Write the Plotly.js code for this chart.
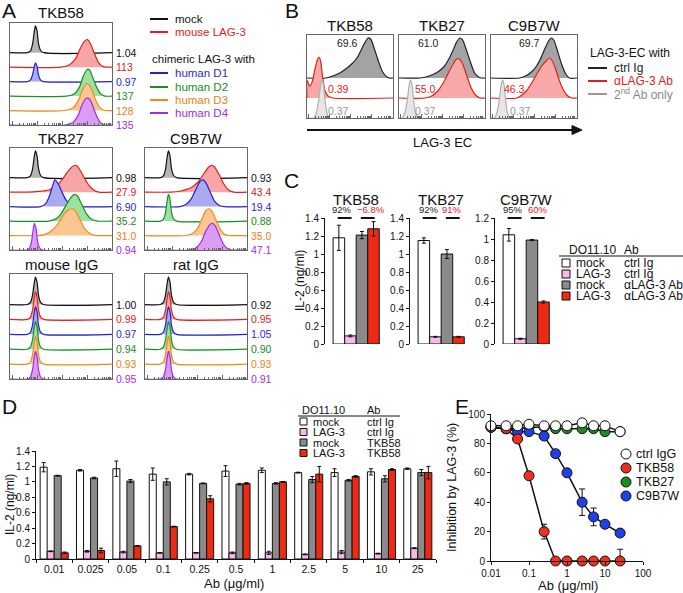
<!DOCTYPE html>
<html><head><meta charset="utf-8">
<script src="https://cdn.plot.ly/plotly-3.0.1.min.js"></script>
<style>html,body{margin:0;padding:0;background:#fff}</style>
</head><body><div id="chart" style="width:683px;height:593px"></div>
<script>
// ================= DATA =================
// Panel A: histogram outlines [x % of axis, height in row units]
const A_rows = ['mock','mouse LAG-3','human D1','human D2','human D3','human D4'];
const A_TKB58_vals = ['1.04','113','0.97','137','128','135'];
const A_TKB27_vals = ['0.98','27.9','6.90','35.2','31.0','0.94'];
const A_C9B7W_vals = ['0.93','43.4','19.4','0.88','35.0','47.1'];
const A_mIgG_vals = ['1.00','0.99','0.97','0.94','0.93','0.95'];
const A_rIgG_vals = ['0.92','0.95','1.05','0.90','0.93','0.91'];

const A_TKB58_mock = [[17,0],[20,0.12],[22,0.55],[24,1.55],[25,1.85],[26.5,1.5],[28,0.6],[30,0.15],[33,0]];
const A_TKB58_mLAG3 = [[50,0],[58,0.15],[64,0.55],[69,1.3],[73,1.8],[76,1.9],[79,1.6],[83,0.9],[87,0.3],[91,0.05],[94,0]];
const A_TKB58_D1 = [[17,0],[20,0.1],[22,0.45],[24,1.1],[25,1.3],[26.5,1.05],[28,0.45],[30,0.1],[33,0]];
const A_TKB58_D2 = [[55,0],[63,0.15],[68,0.6],[72,1.4],[76,1.85],[78,1.8],[81,1.3],[85,0.6],[89,0.15],[93,0]];
const A_TKB58_D3 = [[53,0],[62,0.2],[67,0.7],[71,1.4],[75,1.85],[78,1.75],[81,1.3],[85,0.55],[89,0.15],[93,0]];
const A_TKB58_D4 = [[54,0],[62,0.2],[67,0.7],[71,1.45],[75,1.85],[78,1.8],[81,1.35],[85,0.6],[89,0.15],[93,0]];

const A_TKB27_mock = [[17,0],[20,0.12],[22,0.55],[24,1.55],[25,1.85],[26.5,1.5],[28,0.6],[30,0.15],[33,0]];
const A_TKB27_mLAG3 = [[18,0],[28,0.05],[38,0.15],[45,0.4],[52,0.95],[57,1.45],[62,1.8],[65,1.85],[68,1.6],[72,1.1],[77,0.5],[82,0.15],[87,0]];
const A_TKB27_D1 = [[30,0],[35,0.2],[39,0.8],[42,1.5],[44,1.85],[47,1.6],[51,1.0],[55,0.45],[60,0.12],[66,0]];
const A_TKB27_D2 = [[38,0],[45,0.15],[50,0.5],[55,1.1],[60,1.65],[63,1.85],[66,1.75],[70,1.2],[75,0.5],[80,0.12],[86,0]];
const A_TKB27_D3 = [[28,0],[35,0.1],[42,0.4],[48,0.9],[53,1.5],[58,1.8],[61,1.85],[64,1.7],[68,1.2],[73,0.5],[79,0.1],[85,0]];
const A_TKB27_D4 = [[16,0],[19,0.12],[21,0.55],[23,1.55],[24,1.85],[25.5,1.5],[27,0.6],[29,0.15],[32,0]];

const A_C9B7W_mock = [[15,0],[18,0.12],[20,0.55],[22,1.55],[23,1.85],[24.5,1.5],[26,0.6],[28,0.15],[31,0]];
const A_C9B7W_mLAG3 = [[25,0],[35,0.08],[45,0.3],[52,0.7],[57,1.2],[62,1.7],[65,1.85],[68,1.75],[72,1.3],[77,0.6],[82,0.15],[87,0]];
const A_C9B7W_D1 = [[34,0],[40,0.15],[45,0.5],[50,1.2],[54,1.75],[57,1.85],[60,1.6],[64,1.0],[68,0.4],[73,0.08],[78,0]];
const A_C9B7W_D2 = [[15,0],[18,0.12],[20,0.55],[22,1.55],[23,1.85],[24.5,1.5],[26,0.6],[28,0.15],[31,0]];
const A_C9B7W_D3 = [[40,0],[47,0.15],[52,0.55],[56,1.2],[60,1.75],[63,1.85],[66,1.65],[70,1.0],[74,0.4],[78,0.08],[82,0]];
const A_C9B7W_D4 = [[42,0],[50,0.15],[55,0.55],[59,1.2],[63,1.7],[66,1.85],[69,1.65],[73,1.0],[77,0.4],[81,0.08],[85,0]];

const A_mIgG_peak = [[17,0],[20,0.14],[22,0.6],[24,1.55],[25,1.85],[26.5,1.5],[28,0.6],[30,0.15],[33,0]];
const A_rIgG_peak = [[15,0],[18,0.14],[20,0.6],[22,1.55],[23,1.85],[24.5,1.5],[26,0.6],[28,0.15],[31,0]];

// Panel B
const B_clones = ['TKB58','TKB27','C9B7W'];
const B_ctrl_vals = ['69.6','61.0','69.7'];
const B_ab_vals = ['0.39','55.0','46.3'];
const B_2nd_vals = ['0.37','0.37','0.37'];
const B_TKB58_ctrl = [[22,0],[30,0.1],[38,0.25],[45,0.45],[52,0.7],[58,1.0],[63,1.4],[67,1.75],[71,2.0],[74,1.95],[78,1.5],[83,0.85],[88,0.3],[93,0.05],[96,0]];
const B_TKB58_ab = [[0,0.9],[3,0.6],[6,0.8],[9,1.4],[12,1.9],[14,2.05],[16,1.8],[18,1.1],[21,0.35],[25,0.08],[30,0]];
const B_TKB58_2nd = [[8,0],[11,0.3],[14,1.0],[16,1.7],[17.5,1.9],[19,1.7],[21,0.9],[23,0.3],[26,0]];
const B_TKB27_ctrl = [[25,0],[35,0.1],[45,0.3],[52,0.55],[58,0.95],[63,1.4],[67,1.8],[71,2.0],[74,1.9],[78,1.45],[83,0.8],[88,0.25],[93,0.04],[96,0]];
const B_TKB27_ab = [[30,0],[38,0.1],[45,0.35],[52,0.8],[58,1.3],[63,1.7],[67,1.95],[70,1.95],[74,1.7],[79,1.1],[84,0.5],[89,0.15],[94,0]];
const B_TKB27_2nd = [[4,0],[7,0.3],[10,1.0],[12,1.7],[13.5,1.9],[15,1.7],[17,0.9],[19,0.3],[22,0]];
const B_C9B7W_ctrl = [[33,0],[40,0.1],[47,0.3],[53,0.6],[58,1.0],[63,1.5],[67,1.85],[70,2.0],[73,1.9],[77,1.4],[82,0.7],[87,0.2],[91,0]];
const B_C9B7W_ab = [[30,0],[36,0.15],[42,0.4],[48,0.8],[54,1.25],[59,1.6],[64,1.85],[68,2.0],[72,1.8],[77,1.2],[82,0.6],[88,0.15],[94,0]];
const B_C9B7W_2nd = [[4,0],[7,0.3],[10,1.0],[12,1.7],[13.5,1.9],[15,1.7],[17,0.9],[19,0.3],[22,0]];

// Panel C
const C_clones = ['TKB58','TKB27','C9B7W'];
const C_groups = ['mock|ctrl Ig','LAG-3|ctrl Ig','mock|\u03b1LAG-3 Ab','LAG-3|\u03b1LAG-3 Ab'];
const C_TKB58 = [1.18, 0.09, 1.21, 1.28];
const C_TKB58_err = [0.14, 0.01, 0.04, 0.08];
const C_TKB27 = [1.15, 0.08, 1.00, 0.08];
const C_TKB27_err = [0.03, 0.005, 0.05, 0.005];
const C_C9B7W = [1.04, 0.05, 0.99, 0.40];
const C_C9B7W_err = [0.06, 0.005, 0.005, 0.01];
const C_pct_ctrl = ['92%','92%','95%'];
const C_pct_ab = ['\u22126.8%','91%','60%'];

// Panel D
const D_doses = ['0.01','0.025','0.05','0.1','0.25','0.5','1','2.5','5','10','25'];
const D_mock_ctrl = [1.19,1.15,1.17,1.10,1.10,1.14,1.15,1.12,1.12,1.13,1.17];
const D_mock_ctrl_err = [0.06,0.01,0.10,0.08,0.01,0.07,0.03,0.005,0.05,0.04,0.01];
const D_lag3_ctrl = [0.10,0.10,0.09,0.08,0.08,0.08,0.08,0.06,0.09,0.07,0.14];
const D_lag3_ctrl_err = [0.005,0.01,0.01,0.005,0.003,0.01,0.02,0.005,0.02,0.005,0.005];
const D_mock_tkb = [1.08,1.05,1.01,1.00,0.98,0.97,0.98,1.03,1.02,1.04,1.12];
const D_mock_tkb_err = [0.005,0.01,0.02,0.04,0.005,0.01,0.01,0.04,0.01,0.04,0.04];
const D_lag3_tkb = [0.08,0.11,0.17,0.42,0.78,0.98,1.00,1.10,1.07,1.16,1.12];
const D_lag3_tkb_err = [0.01,0.03,0.005,0.005,0.04,0.01,0.005,0.10,0.01,0.01,0.08];

// Panel E
const E_dose = [0.01,0.025,0.05,0.1,0.25,0.5,1,2.5,5,10,25];
const E_ctrl = [92,92,92,93,92,92,92,94,92,92,88];
const E_ctrl_err = [1,1,1,1,1,1,1,1,1,1,1];
const E_TKB58 = [91,90,83,58,20,0,0,0,0,0,0];
const E_TKB58_err = [1,1,2,2,5,0,0,0,0,0,8];
const E_TKB27 = [91,90,90,91,91,90,90,90,90,88,88];
const E_TKB27_err = [1,1,1,1,1,1,1,1,1,1,1];
const E_C9B7W = [91,90,88,88,85,73,60,40,30,25,19];
const E_C9B7W_err = [1,1,1,1,1,1,1,9,6,1,1];

// ================= LAYOUT HELPERS =================
const W=683,H=593;
const FONT='Liberation Sans, Arial, Helvetica, sans-serif';
const layout={width:W,height:H,margin:{l:0,r:0,t:0,b:0},paper_bgcolor:'#ffffff',plot_bgcolor:'rgba(0,0,0,0)',
  showlegend:false,font:{family:FONT,size:11,color:'#111'},annotations:[],shapes:[],bargap:0};
const traces=[];
const ax=(i,c)=>c+(i===1?'':i);
const axKey=(i,c)=>c+'axis'+(i===1?'':i);
function setAxes(i,x0,x1,yTop,yBot,xo,yo){
  layout[axKey(i,'x')]=Object.assign({domain:[x0/W,x1/W],anchor:ax(i,'y'),showgrid:false,zeroline:false,fixedrange:true},xo);
  layout[axKey(i,'y')]=Object.assign({domain:[1-yBot/H,1-yTop/H],anchor:ax(i,'x'),showgrid:false,zeroline:false,fixedrange:true},yo);
}
function ann(text,x,y,size,color,o){
  layout.annotations.push(Object.assign({text:text,x:x/W,y:1-y/H,xref:'paper',yref:'paper',showarrow:false,
    font:{family:FONT,size:size||12,color:color||'#111'},xanchor:'center',yanchor:'middle'},o||{}));
}
function pline(x0,y0,x1,y1,color,width){
  layout.shapes.push({type:'line',xref:'paper',yref:'paper',x0:x0/W,y0:1-y0/H,x1:x1/W,y1:1-y1/H,line:{color:color,width:width||1}});
}
function prect(x0,y0,x1,y1,fill){
  layout.shapes.push({type:'rect',xref:'paper',yref:'paper',x0:x0/W,y0:1-y0/H,x1:x1/W,y1:1-y1/H,fillcolor:fill,line:{color:'#111',width:1}});
}
// log-like ticks along the bottom of histogram boxes
const majT=[],minT=[];
for(let d=0;d<=4;d++){const b=2+d*24.5; if(b<=100) majT.push(b); for(let m=2;m<=9;m++){const v=b+24.5*Math.log10(m); if(v<100) minT.push(v);} }
const histX={range:[0,100],showline:true,mirror:true,linecolor:'#666',linewidth:1,ticks:'inside',tickmode:'array',tickvals:majT,
  ticklen:4,tickcolor:'#666',showticklabels:false,minor:{ticks:'inside',tickmode:'array',tickvals:minT,ticklen:2,tickcolor:'#666'}};
function histTrace(pts,base,lc,fc,i){
  const xs=[0],ys=[base];
  pts.forEach(p=>{xs.push(p[0]);ys.push(base+p[1]);});
  if(pts[pts.length-1][0]<100){xs.push(100);ys.push(base);}
  return {type:'scatter',mode:'lines',x:xs,y:ys,fill:'toself',fillcolor:fc,line:{color:lc,width:1.2,shape:'spline',smoothing:0.7},
    xaxis:ax(i,'x'),yaxis:ax(i,'y'),hoverinfo:'skip'};
}
// ================= PANEL A =================
const A_line=['#111111','#e3211c','#2222cc','#17921f','#f08a1e','#9a2fe6'];
const A_fill=['#b5b5b5','#f6a6a6','#aaaaf0','#9ee0a2','#fbc690','#dc9cf6'];
const A_txt=['#111111','#e3211c','#2a2ac8','#1a8a22','#ee8020','#9a2fe6'];
const A_base=[5,4,3,2,1,0];
function aPanel(i,x0,x1,y0,y1,title,curves,vals){
  setAxes(i,x0,x1,y0,y1,histX,{range:[0,7.05],showline:true,mirror:true,linecolor:'#666',showticklabels:false,ticks:''});
  curves.forEach((c,k)=>traces.push(histTrace(c,A_base[k],A_line[k],A_fill[k],i)));
  vals.forEach((v,k)=>layout.annotations.push({text:v,xref:ax(i,'x')+' domain',yref:ax(i,'y'),x:1.02,y:A_base[k],xanchor:'left',yanchor:'middle',
    showarrow:false,font:{family:FONT,size:10.5,color:A_txt[k]}}));
  ann(title,(x0+x1)/2,y0-10,15,'#111');
}
aPanel(1,10,112,23,125,'TKB58',[A_TKB58_mock,A_TKB58_mLAG3,A_TKB58_D1,A_TKB58_D2,A_TKB58_D3,A_TKB58_D4],A_TKB58_vals);
aPanel(2,10,112,148,250,'TKB27',[A_TKB27_mock,A_TKB27_mLAG3,A_TKB27_D1,A_TKB27_D2,A_TKB27_D3,A_TKB27_D4],A_TKB27_vals);
aPanel(3,145,247,148,250,'C9B7W',[A_C9B7W_mock,A_C9B7W_mLAG3,A_C9B7W_D1,A_C9B7W_D2,A_C9B7W_D3,A_C9B7W_D4],A_C9B7W_vals);
aPanel(4,10,112,274,379,'mouse IgG',A_rows.map(()=>A_mIgG_peak),A_mIgG_vals);
aPanel(5,145,247,274,379,'rat IgG',A_rows.map(()=>A_rIgG_peak),A_rIgG_vals);
// legend A
const A_legY=[19,32,73,87,100,113];
A_rows.forEach((t,k)=>{pline(150,A_legY[k],168,A_legY[k],A_line[k],2);ann(t,173,A_legY[k],11.5,A_txt[k],{xanchor:'left'});});
ann('chimeric LAG-3 with',150,59,11.5,'#111',{xanchor:'left'});

// ================= PANEL B =================
const B_line=['#222222','#e3211c','#b0b0b0'];
const B_fill=['#a3a3a3','#f8a8a8','#e6e6e6'];
const B_txt=['#222222','#e3211c','#999999'];
const B_base=[2,1,0];
const B_boxes=[[307,393],[399,485],[491,577]];
const B_curves=[[B_TKB58_ctrl,B_TKB58_ab,B_TKB58_2nd],[B_TKB27_ctrl,B_TKB27_ab,B_TKB27_2nd],[B_C9B7W_ctrl,B_C9B7W_ab,B_C9B7W_2nd]];
const B_lblX=[[47,37,37],[34,31,31],[45,27,34]];
const B_lblY=[3.75,1.45,0.35];
B_clones.forEach((cl,j)=>{
  const i=6+j,[x0,x1]=B_boxes[j];
  setAxes(i,x0,x1,35,118,histX,{range:[0,4.15],showline:true,mirror:true,linecolor:'#666',showticklabels:false,ticks:''});
  B_curves[j].forEach((c,k)=>traces.push(histTrace(c,B_base[k],B_line[k],B_fill[k],i)));
  [B_ctrl_vals[j],B_ab_vals[j],B_2nd_vals[j]].forEach((v,k)=>layout.annotations.push({text:v,xref:ax(i,'x'),yref:ax(i,'y'),
    x:B_lblX[j][k],y:B_lblY[k],showarrow:false,font:{family:FONT,size:10.5,color:B_txt[k]}}));
  ann(cl,(x0+x1)/2,25,15,'#111');
});
pline(307,130,574,130,'#111',2);
layout.shapes.push({type:'path',xref:'paper',yref:'paper',path:`M ${572/W} ${1-125.5/H} L ${582/W} ${1-130/H} L ${572/W} ${1-134.5/H} Z`,fillcolor:'#111',line:{color:'#111',width:1}});
ann('LAG-3 EC',442,142,13,'#111');
ann('LAG-3-EC with',588,53,12,'#111',{xanchor:'left'});
const B_legTxt=['ctrl Ig','\u03b1LAG-3 Ab','2<sup>nd</sup> Ab only'];
[68,81,94].forEach((y,k)=>{pline(588,y,607,y,k===2?'#999':B_line[k],2);ann(B_legTxt[k],612,y,12,k===2?'#888':B_txt[k],{xanchor:'left'});});

// ================= PANEL C =================
const C_colors=['#ffffff','#f5b8e8','#8a8a8a','#ee2a14'];
const C_vals=[C_TKB58,C_TKB27,C_C9B7W], C_errs=[C_TKB58_err,C_TKB27_err,C_C9B7W_err];
const C_pctX=[[0.3,2.75],[0.45,2.45],[0.35,2.5]];
C_clones.forEach((cl,j)=>{
  const i=9+j, x0=325+85*j;
  setAxes(i,x0,x0+56,218,344,{range:[-1.2,3.65],showline:false,showticklabels:false,ticks:''},
    {range:[0,j===2?1.2:1.4],dtick:0.2,tick0:0,ticks:'outside',ticklen:3,tickcolor:'#111',showline:true,linecolor:'#111',linewidth:1,
     tickfont:{family:FONT,size:10,color:'#111'}});
  traces.push({type:'bar',x:[0,1,2,3],y:C_vals[j],width:1,marker:{color:C_colors,line:{color:'#111',width:1}},
    error_y:{type:'data',array:C_errs[j],visible:true,color:'#111',thickness:1,width:2},xaxis:ax(i,'x'),yaxis:ax(i,'y'),hoverinfo:'skip'});
  layout.annotations.push({text:cl,xref:ax(i,'x'),yref:'paper',x:1.5,y:1-189/H,showarrow:false,font:{family:FONT,size:15,color:'#111'}});
  layout.annotations.push({text:C_pct_ctrl[j],xref:ax(i,'x'),yref:'paper',x:C_pctX[j][0],y:1-209/H,showarrow:false,font:{family:FONT,size:9.5,color:'#222'}});
  layout.annotations.push({text:C_pct_ab[j],xref:ax(i,'x'),yref:'paper',x:C_pctX[j][1],y:1-209/H,showarrow:false,font:{family:FONT,size:9.5,color:'#e3211c'}});
  [0.5,2.5].forEach(c=>layout.shapes.push({type:'line',xref:ax(i,'x'),yref:'paper',x0:c-0.6,x1:c+0.6,y0:1-218/H,y1:1-218/H,line:{color:'#111',width:2}}));
});
ann('IL-2 (ng/ml)',300,281,12,'#111',{textangle:-90});
ann('DO11.10',567,250,12,'#111',{xanchor:'left'});
ann('Ab',622,250,12,'#111',{xanchor:'left'});
pline(559,256,683,256,'#111',1);
C_groups.forEach((g,k)=>{const y=263+11*k,p=g.split('|');prect(562,y-4,570,y+4,C_colors[k]);
  ann(p[0],574,y,12,'#111',{xanchor:'left'});ann(p[1],622,y,12,'#111',{xanchor:'left'});});

// ================= PANEL D =================
setAxes(12,36,436,451,559,{type:'category',categoryorder:'array',categoryarray:D_doses,range:[-0.5,10.5],tickson:'boundaries',ticks:'outside',ticklen:3,
  tickcolor:'#111',showline:true,linecolor:'#111',tickfont:{family:FONT,size:10.5,color:'#111'}},
  {range:[0,1.4],dtick:0.2,tick0:0,ticks:'outside',ticklen:3,tickcolor:'#111',showline:true,linecolor:'#111',tickfont:{family:FONT,size:10,color:'#111'}});
const D_series=[[D_mock_ctrl,D_mock_ctrl_err],[D_lag3_ctrl,D_lag3_ctrl_err],[D_mock_tkb,D_mock_tkb_err],[D_lag3_tkb,D_lag3_tkb_err]];
D_series.forEach((s,k)=>traces.push({type:'bar',x:D_doses,y:s[0],width:0.193,offset:-0.386+0.193*k,
  marker:{color:C_colors[k],line:{color:'#111',width:1}},error_y:{type:'data',array:s[1],visible:true,color:'#111',thickness:1,width:2},
  xaxis:'x12',yaxis:'y12',hoverinfo:'skip'}));
ann('IL-2 (ng/ml)',10,505,12,'#111',{textangle:-90});
ann('Ab (\u03bcg/ml)',234,583,13,'#111');
ann('DO11.10',300,410,11,'#111',{xanchor:'left'});
ann('Ab',365,410,11,'#111',{xanchor:'left'});
pline(298,416,400,416,'#111',1);
const D_groups=['mock|ctrl Ig','LAG-3|ctrl Ig','mock|TKB58','LAG-3|TKB58'];
D_groups.forEach((g,k)=>{const y=421.5+10.5*k,p=g.split('|');prect(300,y-3.5,307,y+3.5,C_colors[k]);
  ann(p[0],311,y,11,'#111',{xanchor:'left'});ann(p[1],365,y,11,'#111',{xanchor:'left'});});

// ================= PANEL E =================
setAxes(13,491,643,414,561,{type:'log',range:[-2,2],tickvals:[0.01,0.1,1,10,100],ticktext:['0.01','0.1','1','10','100'],ticks:'outside',ticklen:3,
  tickcolor:'#111',showline:true,linecolor:'#111',tickfont:{family:FONT,size:10,color:'#111'}},
  {range:[0,100],dtick:20,ticks:'outside',ticklen:3,tickcolor:'#111',showline:true,linecolor:'#111',tickfont:{family:FONT,size:10,color:'#111'}});
const E_series=[['TKB27',E_TKB27,E_TKB27_err,'#1e8c1e'],['C9B7W',E_C9B7W,E_C9B7W_err,'#1e40e6'],['TKB58',E_TKB58,E_TKB58_err,'#ee3020'],['ctrl IgG',E_ctrl,E_ctrl_err,'#ffffff']];
E_series.forEach(s=>traces.push({type:'scatter',mode:'lines+markers',x:E_dose,y:s[1],name:s[0],cliponaxis:false,
  line:{color:'#111',width:1.5},marker:{size:10,color:s[3],line:{color:'#111',width:1}},
  error_y:{type:'data',array:s[2],visible:true,color:'#111',thickness:1,width:3},xaxis:'x13',yaxis:'y13',hoverinfo:'skip'}));
ann('Inhibition by LAG-3 (%)',452,488,12.5,'#111',{textangle:-90});
ann('Ab (\u03bcg/ml)',568,585,13,'#111');
const E_leg=[['ctrl IgG','#ffffff'],['TKB58','#ee3020'],['TKB27','#1e8c1e'],['C9B7W','#1e40e6']];
E_leg.forEach((l,k)=>{const y=454+14*k;layout.shapes.push({type:'circle',xref:'paper',yref:'paper',x0:621/W,x1:631/W,y0:1-(y+5)/H,y1:1-(y-5)/H,fillcolor:l[1],line:{color:'#111',width:1}});
  ann(l[0],634,y,12.5,'#111',{xanchor:'left'});});

// Panel letters
[['A',9,10],['B',292,10],['C',291,180],['D',9,407],['E',462,407]].forEach(p=>ann(p[0],p[1],p[2],21,'#111'));

Plotly.newPlot('chart',traces,layout,{staticPlot:true,displayModeBar:false});
</script></body></html>
